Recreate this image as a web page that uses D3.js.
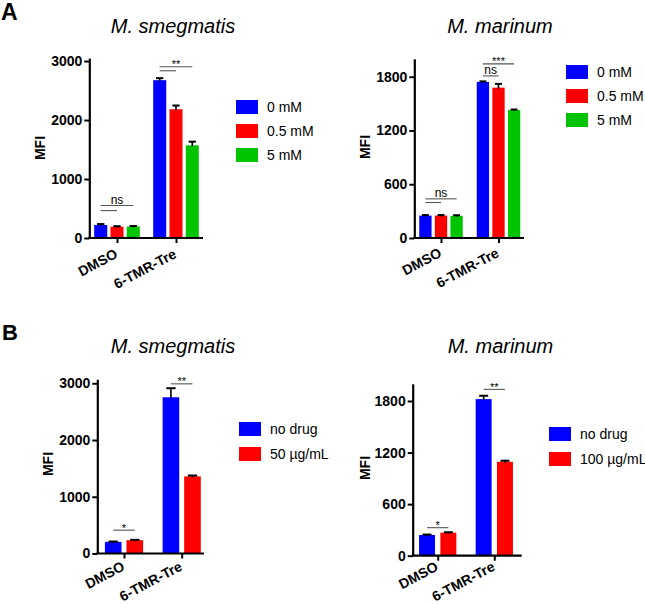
<!DOCTYPE html>
<html>
<head>
<meta charset="utf-8">
<script src="https://cdn.jsdelivr.net/npm/d3@7"></script>
<style>
  html, body { margin: 0; padding: 0; background: #fff; }
  svg { display: block; font-family: "Liberation Sans", Arial, Helvetica, sans-serif; }
</style>
</head>
<body>
<svg id="chart" width="645" height="604"></svg>
<script>
// ---------------- DATA ----------------
const groups = ["DMSO", "6-TMR-Tre"];

const seriesConc = ["0 mM", "0.5 mM", "5 mM"];
const seriesDrugSmeg = ["no drug", "50 µg/mL"];
const seriesDrugMar = ["no drug", "100 µg/mL"];

const titles = ["M. smegmatis", "M. marinum", "M. smegmatis", "M. marinum"];
const panelLetters = ["A", "B"];
const yLabel = "MFI";

const smegTicks = [0, 1000, 2000, 3000];
const marTicks = [0, 600, 1200, 1800];

// values per series: [DMSO, 6-TMR-Tre]
const smegConcMean = [[221, 2676], [192, 2183], [195, 1571]];
const smegConcErr  = [[15, 34], [8, 63], [8, 62]];
const marConcMean  = [[250, 1742], [250, 1678], [248, 1428]];
const marConcErr   = [[6, 6], [6, 42], [6, 6]];
const smegDrugMean = [[205, 2753], [235, 1359]];
const smegDrugErr  = [[6, 160], [6, 15]];
const marDrugMean  = [[241, 1822], [268, 1093]];
const marDrugErr   = [[5, 39], [5, 12]];

// significance brackets: group index, series from, series to, level (MFI), label
const smegConcSig = [[0, 0, 1, 465, ""], [0, 0, 2, 550, "ns"], [1, 0, 1, 2835, ""], [1, 0, 2, 2903, "**"]];
const marConcSig  = [[0, 0, 1, 396, ""], [0, 0, 2, 437, "ns"], [1, 0, 1, 1809, "ns"], [1, 0, 2, 1943, "***"]];
const smegDrugSig = [[0, 0, 1, 411, "*"], [1, 0, 1, 2990, "**"]];
const marDrugSig  = [[0, 0, 1, 326, "*"], [1, 0, 1, 1935, "**"]];

// ---------------- STYLE / LAYOUT ----------------
const colors3 = ["#0000ff", "#ff0000", "#00c400"];
const colors2 = ["#0000ff", "#ff0000"];

const panels = [
  { title: titles[0], series: seriesConc, mean: smegConcMean, err: smegConcErr, sig: smegConcSig, ticks: smegTicks, colors: colors3,
    yMax: 3050, y0: 238, yTop: 58.1, ax: 89.3, xEnd: 203, centers: [117, 176], innerW: 45.6, pad: 0.2, labDy: 19,
    titleX: 173, titleY: 33, mfiX: 45, mfiY: 148, legX: 236, legY: 100, legStep: 24 },
  { title: titles[1], series: seriesConc, mean: marConcMean, err: marConcErr, sig: marConcSig, ticks: marTicks, colors: colors3,
    yMax: 2000, y0: 238, yTop: 58.8, ax: 414.3, xEnd: 524, centers: [441, 498.5], innerW: 43.5, pad: 0.21, labDy: 18,
    titleX: 500, titleY: 33, mfiX: 370, mfiY: 147, legX: 566, legY: 65, legStep: 24 },
  { title: titles[2], series: seriesDrugSmeg, mean: smegDrugMean, err: smegDrugErr, sig: smegDrugSig, ticks: smegTicks, colors: colors2,
    yMax: 3070, y0: 553.5, yTop: 379.3, ax: 97.3, xEnd: 204, centers: [124, 181.7], innerW: 38.2, pad: 0.23, labDy: 16,
    titleX: 173, titleY: 353, mfiX: 53, mfiY: 464, legX: 239, legY: 422, legStep: 25 },
  { title: titles[3], series: seriesDrugMar, mean: marDrugMean, err: marDrugErr, sig: marDrugSig, ticks: marTicks, colors: colors2,
    yMax: 2000, y0: 555.7, yTop: 383.8, ax: 412.7, xEnd: 521.7, centers: [437.7, 494.3], innerW: 37.3, pad: 0.25, labDy: 14,
    titleX: 500.5, titleY: 353, mfiX: 370, mfiY: 468, legX: 549, legY: 427, legStep: 25 }
];

const svg = d3.select("#chart");

// panel letters
svg.append("text").attr("x", 1).attr("y", 20).attr("font-size", 23).attr("font-weight", "bold").text(panelLetters[0]);
svg.append("text").attr("x", 2).attr("y", 340).attr("font-size", 22).attr("font-weight", "bold").text(panelLetters[1]);

panels.forEach(p => {
  const g = svg.append("g");
  const y = d3.scaleLinear().domain([0, p.yMax]).range([p.y0, p.yTop]);
  const xg = d3.scalePoint().domain(groups).range(p.centers);
  const xs = d3.scaleBand().domain(p.series).range([-p.innerW / 2, p.innerW / 2]).paddingInner(p.pad).paddingOuter(0);
  const bw = xs.bandwidth();

  // title
  g.append("text").attr("x", p.titleX).attr("y", p.titleY).attr("text-anchor", "middle")
    .attr("font-size", 20).attr("font-style", "italic").text(p.title);

  // bars
  p.series.forEach((s, si) => {
    groups.forEach((grp, gi) => {
      const v = p.mean[si][gi];
      const x0 = xg(grp) + xs(s);
      g.append("rect").attr("x", x0).attr("y", y(v)).attr("width", bw).attr("height", y(0) - y(v))
        .attr("fill", p.colors[si]);
    });
  });

  // error bars (upper)
  p.series.forEach((s, si) => {
    groups.forEach((grp, gi) => {
      const v = p.mean[si][gi], e = p.err[si][gi];
      const cx = xg(grp) + xs(s) + bw / 2;
      const cap = bw * 0.28;
      g.append("line").attr("x1", cx).attr("x2", cx).attr("y1", y(v) + 1).attr("y2", y(v + e))
        .attr("stroke", "#000").attr("stroke-width", 1.6);
      g.append("line").attr("x1", cx - cap).attr("x2", cx + cap).attr("y1", y(v + e)).attr("y2", y(v + e))
        .attr("stroke", "#000").attr("stroke-width", 2);
    });
  });

  // y axis
  const yAxis = d3.axisLeft(y).tickValues(p.ticks).tickFormat(d3.format("d"))
    .tickSize(5).tickSizeOuter(0).tickPadding(2);
  const ya = g.append("g").attr("transform", `translate(${p.ax},0)`).call(yAxis);
  ya.select(".domain").attr("stroke-width", 2.2);
  ya.selectAll(".tick line").attr("stroke-width", 2);
  ya.selectAll(".tick text").attr("font-size", 14).attr("font-weight", "bold").attr("fill", "#000")
    .attr("font-family", "'Liberation Sans', Arial, sans-serif");

  // x axis
  const xAxis = d3.axisBottom(xg).tickSize(5).tickSizeOuter(0).tickFormat("");
  const xa = g.append("g").attr("transform", `translate(0,${p.y0})`).call(xAxis);
  xa.select(".domain").attr("d", `M${p.ax - 1},0H${p.xEnd}`).attr("stroke-width", 2.2);
  xa.selectAll(".tick line").attr("stroke-width", 2);
  groups.forEach(grp => {
    g.append("text")
      .attr("transform", `translate(${xg(grp) + 1.5},${p.y0 + p.labDy}) rotate(-28)`)
      .attr("text-anchor", "end").attr("font-size", 14).attr("font-weight", "bold").text(grp);
  });

  // MFI label
  g.append("text").attr("transform", `translate(${p.mfiX},${p.mfiY}) rotate(-90)`)
    .attr("text-anchor", "middle").attr("font-size", 14).attr("font-weight", "bold").text(yLabel);

  // significance
  p.sig.forEach(([gi, a, b, lvl, lab]) => {
    const grp = groups[gi];
    const xa1 = xg(grp) + xs(p.series[a]) + bw / 2;
    const xb1 = xg(grp) + xs(p.series[b]) + bw / 2;
    const ly = y(lvl);
    g.append("line").attr("x1", xa1).attr("x2", xb1).attr("y1", ly).attr("y2", ly)
      .attr("stroke", "#555").attr("stroke-width", 1.1);
    if (lab) {
      const star = lab.includes("*");
      g.append("text").attr("x", (xa1 + xb1) / 2).attr("y", star ? ly + 1.5 : ly - 2)
        .attr("text-anchor", "middle").attr("font-size", star ? 11 : 12).attr("fill", "#000").text(lab);
    }
  });

  // legend
  p.series.forEach((s, si) => {
    const ly = p.legY + si * p.legStep;
    g.append("rect").attr("x", p.legX).attr("y", ly).attr("width", 22).attr("height", 14).attr("fill", p.colors[si]);
    g.append("text").attr("x", p.legX + 31).attr("y", ly + 12).attr("font-size", 14).text(s);
  });
});
</script>
</body>
</html>
